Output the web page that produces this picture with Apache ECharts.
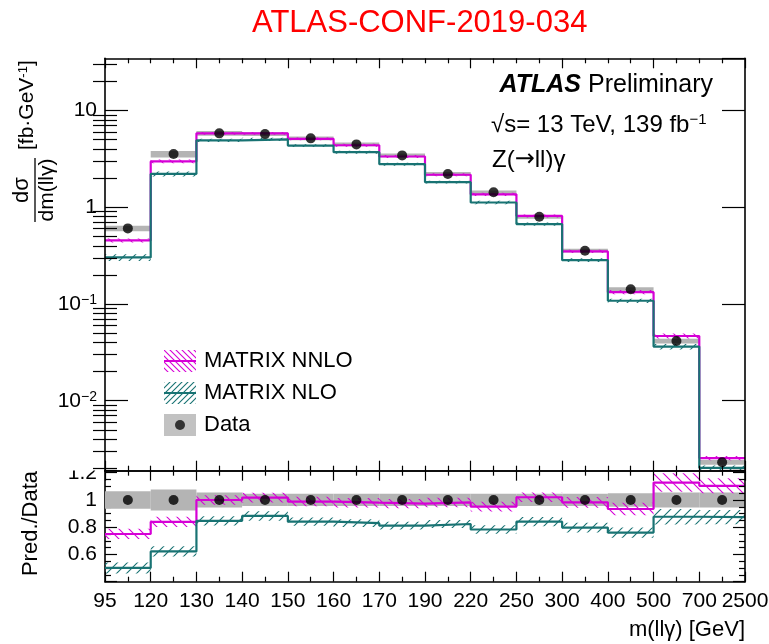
<!DOCTYPE html>
<html>
<head>
<meta charset="utf-8">
<script src="https://cdn.jsdelivr.net/npm/echarts@6/dist/echarts.min.js"></script>
<style>
  html, body { margin: 0; padding: 0; background: #fff; }
  #chart { width: 769px; height: 644px; }
</style>
</head>
<body>
<div id="chart"></div>
<script>
// m(llγ) bin edges [GeV]; bins are drawn with equal width
const binEdges = ['95', '120', '130', '140', '150', '160', '170', '190', '220', '250', '300', '400', '500', '700', '2500'];

// Measured dσ/dm(llγ) [fb/GeV] and its relative uncertainty
const dataXsec   = [0.605, 3.55, 5.81, 5.71, 5.16, 4.47, 3.44, 2.21, 1.43, 0.798, 0.356, 0.142, 0.0414, 0.00231];
const dataRelUnc = [0.065, 0.077, 0.055, 0.045, 0.045, 0.045, 0.045, 0.045, 0.045, 0.045, 0.045, 0.05, 0.055, 0.055];

// MATRIX NNLO prediction [fb/GeV] and relative uncertainty
const nnloXsec   = [0.454, 2.98, 5.81, 5.81, 5.10, 4.38, 3.35, 2.17, 1.36, 0.814, 0.350, 0.1326, 0.0467, 0.00255];
const nnloRelUnc = [0.05, 0.045, 0.035, 0.035, 0.035, 0.035, 0.035, 0.035, 0.037, 0.035, 0.04, 0.05, 0.06, 0.05];

// MATRIX NLO prediction [fb/GeV] and relative uncertainty
const nloXsec    = [0.303, 2.21, 4.92, 5.04, 4.34, 3.71, 2.79, 1.82, 1.12, 0.671, 0.284, 0.108, 0.0363, 0.00202];
const nloRelUnc  = [0.08, 0.06, 0.04, 0.04, 0.035, 0.035, 0.035, 0.035, 0.04, 0.04, 0.045, 0.05, 0.065, 0.06];

// Minor tick values of the log axis (2..9 x 10^n inside the axis range)
const logMinorTicks = [0.002, 0.003, 0.004, 0.005, 0.006, 0.007, 0.008, 0.009,
  0.02, 0.03, 0.04, 0.05, 0.06, 0.07, 0.08, 0.09,
  0.2, 0.3, 0.4, 0.5, 0.6, 0.7, 0.8, 0.9,
  2, 3, 4, 5, 6, 7, 8, 9, 20, 30];

const FONT = '"Liberation Sans", Arial, Helvetica, sans-serif';
const MAGENTA = '#d600d6';
const TEAL = '#187373';
const GREY = '#b4b4b4';
const nBins = dataXsec.length;
const LOG_MIN = 0.00189, LOG_MAX = 34.7;

// Hatch tile: '/' or '\' diagonal strokes
function hatchTile(color, dir, s) {
  const c = document.createElement('canvas');
  c.width = s; c.height = s;
  const g = c.getContext('2d');
  g.strokeStyle = color;
  g.lineWidth = 1.1;
  g.beginPath();
  if (dir === '/') {
    g.moveTo(-1, s + 1); g.lineTo(s + 1, -1);
    g.moveTo(-1, 1); g.lineTo(1, -1);
    g.moveTo(s - 1, s + 1); g.lineTo(s + 1, s - 1);
  } else {
    g.moveTo(-1, -1); g.lineTo(s + 1, s + 1);
    g.moveTo(s - 1, -1); g.lineTo(s + 1, 1);
    g.moveTo(-1, s - 1); g.lineTo(1, s + 1);
  }
  g.stroke();
  return c;
}
const nnloPattern = { image: hatchTile(MAGENTA, '\\', 10), repeat: 'repeat' };
const nloPattern  = { image: hatchTile(TEAL, '/', 10), repeat: 'repeat' };

// Legend symbols: hatched box with central line, grey box with a dot
function legendIcon(kind) {
  const w = 32, h = 22;
  const c = document.createElement('canvas');
  c.width = w; c.height = h;
  const g = c.getContext('2d');
  if (kind === 'data') {
    g.fillStyle = GREY; g.fillRect(0, 0, w, h);
    g.fillStyle = '#000'; g.beginPath(); g.arc(w / 2, h / 2, 5, 0, 2 * Math.PI); g.fill();
  } else {
    const color = kind === 'nnlo' ? MAGENTA : TEAL;
    const tile = hatchTile(color, kind === 'nnlo' ? '\\' : '/', 6);
    g.fillStyle = g.createPattern(tile, 'repeat');
    g.fillRect(0, 0, w, h);
    g.strokeStyle = color; g.lineWidth = 2;
    g.beginPath(); g.moveTo(0, h / 2); g.lineTo(w, h / 2); g.stroke();
  }
  return 'image://' + c.toDataURL();
}

// Step histogram points: one point per bin plus the closing edge
function stepPoints(vals) {
  const pts = vals.map((v, i) => [i, v]);
  pts.push([vals.length, vals[vals.length - 1]]);
  return pts;
}
function bandRows(vals, unc, scale) {
  return vals.map((v, i) => {
    const d = scale ? scale[i] : 1;
    return [i, v * (1 - unc[i]) / d, v * (1 + unc[i]) / d];
  });
}
function bandRender(fill) {
  return function (params, api) {
    const i = api.value(0);
    const p0 = api.coord([i, api.value(2)]);
    const p1 = api.coord([i + 1, api.value(1)]);
    return {
      type: 'rect',
      shape: { x: p0[0], y: p0[1], width: p1[0] - p0[0], height: p1[1] - p0[1] },
      style: { fill: fill }
    };
  };
}

const nnloRatio = nnloXsec.map((v, i) => v / dataXsec[i]);
const nloRatio = nloXsec.map((v, i) => v / dataXsec[i]);
const unity = dataXsec.map(() => 1);

function axisFrame(extra) {
  return Object.assign({
    axisLine: { show: true, onZero: false, lineStyle: { color: '#000', width: 1.6 } },
    splitLine: { show: false },
    z: 6
  }, extra);
}

const logLabel = function (v) {
  const e = Math.log10(v);
  const r = Math.round(e);
  if (Math.abs(e - r) > 1e-6) return '';
  if (r >= 0) return String(Math.round(Math.pow(10, r)));
  return '10{sup|\u2212' + (-r) + '}';
};
const ratioLabel = function (v) {
  const shown = [0.6, 0.8, 1, 1.2];
  for (const s of shown) {
    if (Math.abs(v - s) < 1e-6) return s === 1 ? '1' : s.toFixed(1);
  }
  return '';
};

const tickStyle = () => ({ color: '#000', width: 1.2 });
const upperX = (pos) => axisFrame({
  type: 'value', gridIndex: 0, position: pos, min: 0, max: nBins, interval: 2,
  axisTick: { show: true, inside: true, length: 10, lineStyle: tickStyle() },
  minorTick: { show: true, splitNumber: 4, length: 5, lineStyle: tickStyle() },
  axisLabel: { show: false }
});
const lowerX = (pos, labels) => axisFrame({
  type: 'value', gridIndex: 1, position: pos, min: 0, max: nBins, interval: 1,
  axisTick: { show: true, inside: true, length: 10, lineStyle: tickStyle() },
  minorTick: { show: true, splitNumber: 2, length: 5, lineStyle: tickStyle() },
  axisLabel: labels ? {
    show: true, margin: 9, color: '#000', fontSize: 21, fontFamily: FONT,
    formatter: (v) => binEdges[Math.round(v)] || ''
  } : { show: false }
});
const upperY = (pos, labels) => axisFrame({
  type: 'log', logBase: 10, gridIndex: 0, position: pos, min: LOG_MIN, max: LOG_MAX,
  axisTick: { show: true, inside: true, length: 23, lineStyle: tickStyle() },
  minorTick: { show: false },
  axisLabel: labels ? {
    show: true, margin: 8, color: '#000', fontSize: 21, fontFamily: FONT,
    showMinLabel: false, showMaxLabel: false,
    formatter: logLabel,
    rich: { sup: { fontSize: 14, fontFamily: FONT, color: '#000', verticalAlign: 'top', padding: [0, 0, 8, 0] } }
  } : { show: false }
});
// Companion log axis carrying only the short ticks at 2..9 x 10^n
const upperYMinor = (pos) => ({
  type: 'log', logBase: 10, gridIndex: 0, position: pos, min: LOG_MIN, max: LOG_MAX,
  axisLine: { show: false },
  splitLine: { show: false },
  axisLabel: { show: false },
  axisTick: { show: true, inside: true, length: 12, lineStyle: tickStyle(), customValues: logMinorTicks },
  minorTick: { show: false },
  z: 6
});
const lowerY = (pos, labels) => axisFrame({
  type: 'value', gridIndex: 1, position: pos, min: 0.4, max: 1.215, interval: 0.2,
  axisTick: { show: true, inside: true, length: 12, lineStyle: tickStyle() },
  minorTick: { show: true, splitNumber: 4, length: 6, lineStyle: tickStyle() },
  axisLabel: labels ? {
    show: true, margin: 8, color: '#000', fontSize: 21, fontFamily: FONT, formatter: ratioLabel
  } : { show: false },
  z: labels ? 0 : 6
});

const series = [];
function panel(idx, gray, nnloBand, nloBand, nnloLine, nloLine, pts) {
  const ax = { xAxisIndex: idx, yAxisIndex: idx };
  series.push(Object.assign({ type: 'custom', name: 'data unc ' + idx, renderItem: bandRender(GREY), data: gray, encode: { x: 0, y: [1, 2] }, z: 2, silent: true }, ax));
  series.push(Object.assign({ type: 'custom', name: 'nnlo unc ' + idx, renderItem: bandRender(nnloPattern), data: nnloBand, encode: { x: 0, y: [1, 2] }, z: 3, silent: true }, ax));
  series.push(Object.assign({ type: 'custom', name: 'nlo unc ' + idx, renderItem: bandRender(nloPattern), data: nloBand, encode: { x: 0, y: [1, 2] }, z: 3, silent: true }, ax));
  series.push(Object.assign({ type: 'line', name: 'MATRIX NNLO', step: 'end', data: stepPoints(nnloLine), symbol: 'none', lineStyle: { color: MAGENTA, width: 2.2 }, itemStyle: { color: MAGENTA }, z: 4 }, ax));
  series.push(Object.assign({ type: 'line', name: 'MATRIX NLO', step: 'end', data: stepPoints(nloLine), symbol: 'none', lineStyle: { color: TEAL, width: 2.2 }, itemStyle: { color: TEAL }, z: 4 }, ax));
  series.push(Object.assign({ type: 'scatter', name: 'Data', data: pts, symbol: 'circle', symbolSize: 10, itemStyle: { color: '#000' }, z: 5 }, ax));
}
// upper panel: cross sections; lower panel: prediction / data
panel(0,
  bandRows(dataXsec, dataRelUnc), bandRows(nnloXsec, nnloRelUnc), bandRows(nloXsec, nloRelUnc),
  nnloXsec, nloXsec, dataXsec.map((v, i) => [i + 0.5, v]));
panel(1,
  bandRows(unity, dataRelUnc), bandRows(nnloXsec, nnloRelUnc, dataXsec), bandRows(nloXsec, nloRelUnc, dataXsec),
  nnloRatio, nloRatio, unity.map((v, i) => [i + 0.5, v]));

const option = {
  animation: false,
  backgroundColor: '#fff',
  textStyle: { fontFamily: FONT },
  title: {
    text: 'ATLAS-CONF-2019-034', left: 247, top: 3,
    textStyle: { color: '#ff0000', fontSize: 31, fontWeight: 'normal', fontFamily: FONT }
  },
  grid: [
    { left: 105, right: 24, top: 58.3, height: 412.4, show: false, outerBoundsMode: 'none', containLabel: false },
    { left: 105, right: 24, top: 470.7, height: 111, show: false, outerBoundsMode: 'none', containLabel: false }
  ],
  xAxis: [upperX('bottom'), lowerX('bottom', true), upperX('top'), lowerX('top', false)],
  yAxis: [upperY('left', true), lowerY('left', true), upperY('right', false), lowerY('right', false),
          upperYMinor('left'), upperYMinor('right')],
  legend: {
    orient: 'vertical', left: 159, top: 345, itemWidth: 32, itemHeight: 22, itemGap: 10,
    selectedMode: false,
    textStyle: { fontSize: 22, color: '#000', fontFamily: FONT, padding: [0, 0, 0, 3] },
    data: [
      { name: 'MATRIX NNLO', icon: legendIcon('nnlo') },
      { name: 'MATRIX NLO', icon: legendIcon('nlo') },
      { name: 'Data', icon: legendIcon('data') }
    ]
  },
  series: series,
  graphic: [
    // white mask hiding the upper half of the top ratio label, where the upper pad overlaps it
    { type: 'rect', z: 5, shape: { x: 50, y: 450, width: 54, height: 20.5 }, style: { fill: '#fff' } },
    {
      type: 'group', x: 35, y: 222, rotation: Math.PI / 2,
      children: [
        { type: 'line', shape: { x1: 0, y1: 0, x2: 64, y2: 0 }, style: { stroke: '#000', lineWidth: 1.3 } },
        { type: 'text', x: 32, y: -2, style: { text: 'dσ', fontSize: 22, fontFamily: FONT, fill: '#000', align: 'center', verticalAlign: 'bottom' } },
        { type: 'text', x: 32, y: 2, style: { text: 'dm(llγ)', fontSize: 21, fontFamily: FONT, fill: '#000', align: 'center', verticalAlign: 'top' } },
        { type: 'text', x: 72, y: -8, style: {
            text: '[fb·GeV{sup|-1}]', fontSize: 21, fontFamily: FONT, fill: '#000', align: 'left', verticalAlign: 'middle',
            rich: { sup: { fontSize: 13, fontFamily: FONT, fill: '#000', verticalAlign: 'top', padding: [0, 0, 8, 0] } }
          } }
      ]
    },
    {
      type: 'text', x: 31, y: 523.5, rotation: Math.PI / 2,
      style: { text: 'Pred./Data', fontSize: 22, fontFamily: FONT, fill: '#000', align: 'center', verticalAlign: 'middle' }
    },
    {
      type: 'text', x: 745, y: 630,
      style: { text: 'm(llγ) [GeV]', fontSize: 22, fontFamily: FONT, fill: '#000', align: 'right', verticalAlign: 'middle' }
    },
    {
      type: 'text', x: 713, y: 85, z: 10,
      style: {
        text: '{a|ATLAS} Preliminary', fontSize: 25, fontFamily: FONT, fill: '#000', align: 'right', verticalAlign: 'middle',
        rich: { a: { fontSize: 25, fontFamily: FONT, fontWeight: 'bold', fontStyle: 'italic', fill: '#000' } }
      }
    },
    {
      type: 'text', x: 491, y: 125, z: 10,
      style: {
        text: '√s= 13 TeV, 139 fb{sup|−1}', fontSize: 24, fontFamily: FONT, fill: '#000', align: 'left', verticalAlign: 'middle',
        rich: { sup: { fontSize: 15, fontFamily: FONT, fill: '#000', verticalAlign: 'top', padding: [0, 0, 10, 0] } }
      }
    },
    {
      type: 'text', x: 492, y: 160, z: 10,
      style: {
        text: 'Z({ar|→}ll)γ', fontSize: 24, fontFamily: FONT, fill: '#000', align: 'left', verticalAlign: 'middle',
        rich: { ar: { fontSize: 24, fontFamily: '"DejaVu Sans", sans-serif', fill: '#000' } }
      }
    }
  ]
};

const chart = echarts.init(document.getElementById('chart'));
chart.setOption(option);
</script>
</body>
</html>
